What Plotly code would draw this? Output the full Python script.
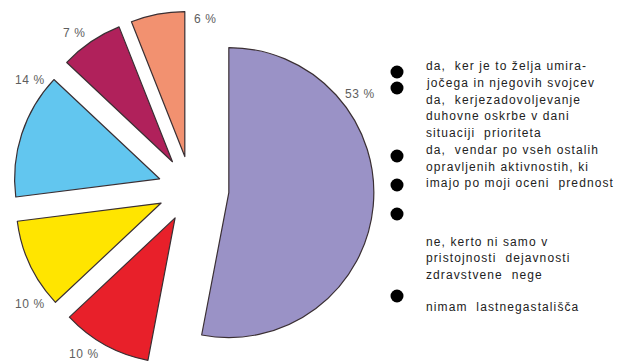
import math
import plotly.graph_objects as go

W, H = 619, 363

# Pie data (clockwise from 12 o'clock)
slice_ids = ["a", "b", "c", "d", "e", "f"]
shares = [53, 10, 10, 14, 7, 6]
share_labels = [f"{v} %" for v in shares]
colors = ["#9a92c6", "#e8202a", "#ffe500", "#62c6ef", "#b0215b", "#f29170"]

# Legend text, one list per entry
legend_entries = [
    ["da,  ker je to želja umira-", "jočega in njegovih svojcev"],
    ["da,  kerjezadovoljevanje", "duhovne oskrbe v dani", "situaciji  prioriteta"],
    ["da,  vendar po vseh ostalih", "opravljenih aktivnostih, ki", "imajo po moji oceni  prednost"],
    ["ne, kerto ni samo v", "pristojnosti  dejavnosti", "zdravstvene  nege"],
    ["nimam  lastnegastališča"],
]

# --- layout constants (pixels) ---
cx, cy, r = 191.0, 189.0, 145.0          # unexploded pie centre and radius
explode_px = [38, 33, 33, 33, 33, 33]     # radial offset of each wedge
label_xy = [(360, 94), (84, 354), (30, 304), (30, 80), (74, 33), (205, 19)]
bullet_x = 397
bullet_y = [72, 88, 156, 185, 214, 296]
text_x = 424
entry_top = [66, 99.5, 150, 241.5, 306.5]
line_gap = 16.7
FONT = "Liberation Sans, Arial, sans-serif"


def spaced(s, px):
    return f'<span style="letter-spacing:{px}px">{s}</span>'


fig = go.Figure()

total = sum(shares)
start = 0.0
for i, v in enumerate(shares):
    mid = (start + v / 2) / total * 2 * math.pi
    start += v
    px = cx + explode_px[i] * math.sin(mid)
    py = cy - explode_px[i] * math.cos(mid)
    dom_x = [max(0.0, (px - r) / W), min(1.0, (px + r) / W)]
    dom_y = [max(0.0, 1 - (py + r) / H), min(1.0, 1 - (py - r) / H)]
    fill = ["rgba(0,0,0,0)"] * len(shares)
    edge = ["rgba(0,0,0,0)"] * len(shares)
    fill[i] = colors[i]
    edge[i] = "#3a2f33"
    fig.add_trace(go.Pie(
        labels=slice_ids,
        values=shares,
        sort=False,
        direction="clockwise",
        rotation=0,
        marker=dict(colors=fill, line=dict(color=edge, width=1.2)),
        textinfo="none",
        hoverinfo="skip",
        showlegend=False,
        domain=dict(x=dom_x, y=dom_y),
    ))

# legend bullets
fig.add_trace(go.Scatter(
    x=[bullet_x] * len(bullet_y), y=bullet_y, mode="markers",
    marker=dict(size=13, color="#000000"),
    hoverinfo="skip", showlegend=False,
))

annotations = []
for (lx, ly), t in zip(label_xy, share_labels):
    annotations.append(dict(
        x=lx, y=ly, xref="x", yref="y", text=spaced(t, 0.6), showarrow=False,
        xanchor="center", yanchor="middle",
        font=dict(family=FONT, size=12, color="#5e5e5e"),
    ))
for top, lines in zip(entry_top, legend_entries):
    for k, line in enumerate(lines):
        annotations.append(dict(
            x=text_x, y=top + k * line_gap, xref="x", yref="y", text=spaced(line, 1.1),
            showarrow=False, xanchor="left", yanchor="middle",
            font=dict(family=FONT, size=12, color="#222222"),
        ))

fig.update_layout(
    width=W, height=H,
    margin=dict(l=0, r=0, t=0, b=0),
    paper_bgcolor="white", plot_bgcolor="white",
    xaxis=dict(range=[0, W], visible=False, fixedrange=True),
    yaxis=dict(range=[H, 0], visible=False, fixedrange=True),
    annotations=annotations,
)

fig.write_html("out.html")
